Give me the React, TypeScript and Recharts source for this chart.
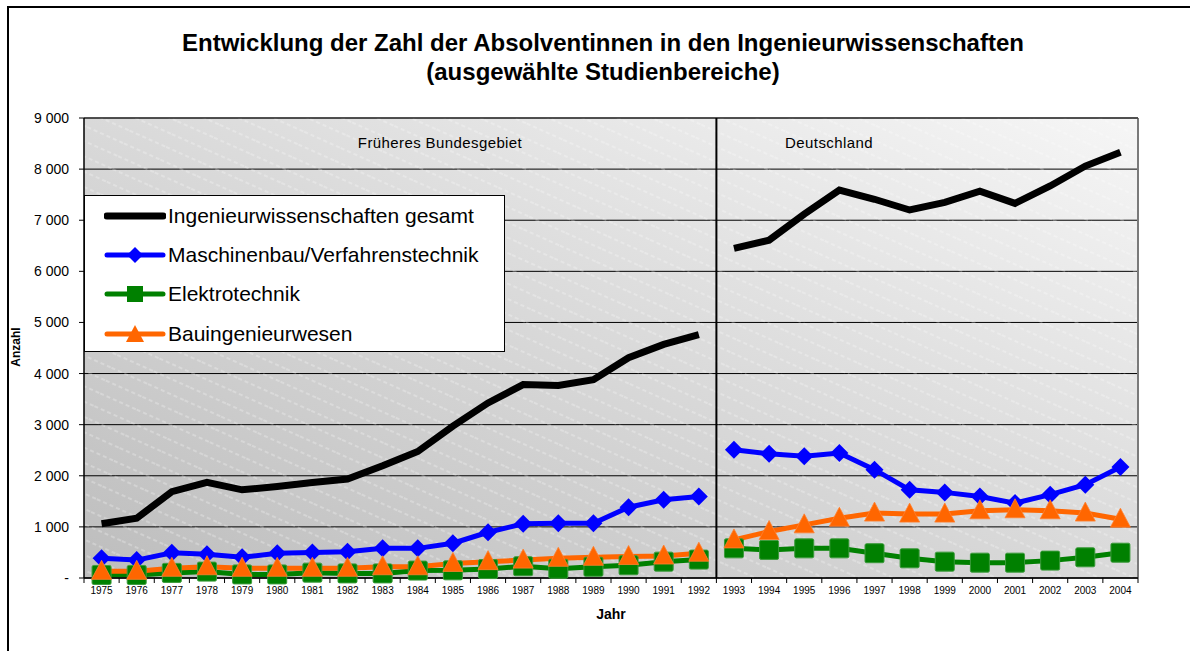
import {
  LineChart,
  Line,
  XAxis,
  YAxis,
  CartesianGrid,
  ReferenceLine,
  ReferenceArea,
} from "recharts";

// Absolventinnen in den Ingenieurwissenschaften, 1975–2004
const years = [
  1975, 1976, 1977, 1978, 1979, 1980, 1981, 1982, 1983, 1984, 1985, 1986,
  1987, 1988, 1989, 1990, 1991, 1992, 1993, 1994, 1995, 1996, 1997, 1998,
  1999, 2000, 2001, 2002, 2003, 2004,
];
const gesamt = [
  1060, 1170, 1690, 1870, 1725, 1790, 1870, 1935, 2195, 2475, 2970, 3425,
  3785, 3765, 3880, 4310, 4570, 4760, 6450, 6610, 7120, 7590, 7410, 7200,
  7350, 7570, 7330, 7670, 8060, 8330,
];
const maschinenbau = [
  385, 350, 495, 465, 405, 485, 500, 515, 580, 580, 680, 895, 1060, 1070,
  1070, 1385, 1530, 1595, 2510, 2430, 2380, 2445, 2120, 1725, 1675, 1595,
  1465, 1630, 1825, 2170,
];
const elektro = [
  60, 60, 100, 125, 70, 70, 105, 90, 90, 145, 150, 175, 230, 180, 220, 250,
  320, 360, 580, 550, 580, 580, 485, 385, 320, 300, 300, 340, 405, 495,
];
const bau = [
  130, 130, 190, 220, 190, 190, 190, 190, 220, 220, 285, 320, 350, 385, 405,
  420, 430, 485, 745, 910, 1040, 1170, 1270, 1250, 1250, 1315, 1335, 1315,
  1270, 1150,
];
const yTicks = [0, 1000, 2000, 3000, 4000, 5000, 6000, 7000, 8000, 9000];
const LAST_WEST = 1992;

// split every series at the 1992/1993 break (no connecting segment)
const data = years.map((year, i) => {
  const west = year <= LAST_WEST;
  return {
    year,
    gesW: west ? gesamt[i] : null,
    gesO: west ? null : gesamt[i],
    mbW: west ? maschinenbau[i] : null,
    mbO: west ? null : maschinenbau[i],
    etW: west ? elektro[i] : null,
    etO: west ? null : elektro[i],
    bauW: west ? bau[i] : null,
    bauO: west ? null : bau[i],
  };
});

const FONT = "Arial, 'Liberation Sans', sans-serif";
const BLUE = "#0000ff";
const GREEN = "#008000";
const ORANGE = "#ff6600";
const HALF = 1054 / 30 / 2;

const fmt = (v: number) =>
  v === 0 ? "-" : String(v).replace(/\B(?=(\d{3})+(?!\d))/g, " ");

function Diamond(props: any) {
  const { cx, cy, index } = props;
  if (cx == null || cy == null) return <g key={`d-${index}`} />;
  return (
    <polygon
      key={`d-${index}`}
      points={`${cx},${cy - 9} ${cx + 9},${cy} ${cx},${cy + 9} ${cx - 9},${cy}`}
      fill={BLUE}
    />
  );
}

function Square(props: any) {
  const { cx, cy, index } = props;
  if (cx == null || cy == null) return <g key={`s-${index}`} />;
  return (
    <rect
      key={`s-${index}`}
      x={cx - 9.5}
      y={cy - 9.5}
      width={19}
      height={19}
      rx={1.5}
      fill={GREEN}
      stroke="#3a9a3a"
      strokeWidth={1}
    />
  );
}

function Triangle(props: any) {
  const { cx, cy, index } = props;
  if (cx == null || cy == null) return <g key={`t-${index}`} />;
  return (
    <polygon
      key={`t-${index}`}
      points={`${cx},${cy - 11} ${cx + 10},${cy + 8} ${cx - 10},${cy + 8}`}
      fill={ORANGE}
      stroke="#ff8030"
      strokeWidth={0.8}
    />
  );
}

function YearTick(props: any) {
  const { x, y, payload, index } = props;
  const axisY = y - 7;
  return (
    <g>
      {index === 0 && (
        <line x1={x - HALF} y1={axisY} x2={x - HALF} y2={axisY + 5} stroke="#000" />
      )}
      <line x1={x + HALF} y1={axisY} x2={x + HALF} y2={axisY + 5} stroke="#000" />
      <text x={x} y={y + 9} textAnchor="middle" fontSize={10} fontFamily={FONT} fill="#000">
        {payload.value}
      </text>
    </g>
  );
}

const legendItems = [
  { name: "Ingenieurwissenschaften gesamt", color: "#000", marker: "none", width: 7 },
  { name: "Maschinenbau/Verfahrenstechnik", color: BLUE, marker: "diamond", width: 5 },
  { name: "Elektrotechnik", color: GREEN, marker: "square", width: 5 },
  { name: "Bauingenieurwesen", color: ORANGE, marker: "triangle", width: 5 },
];

function LegendIcon({ color, marker, width }: { color: string; marker: string; width: number }) {
  return (
    <svg width={62} height={24} style={{ display: "block" }}>
      <line x1={3} y1={12} x2={59} y2={12} stroke={color} strokeWidth={width} strokeLinecap="round" />
      {marker === "diamond" && <polygon points="31,4 39,12 31,20 23,12" fill={color} />}
      {marker === "square" && <rect x={23} y={4} width={16} height={16} fill={color} />}
      {marker === "triangle" && <polygon points="31,3 40,20 22,20" fill={color} />}
    </svg>
  );
}

export default function App() {
  return (
    <div
      style={{
        position: "absolute",
        left: 7,
        top: 6,
        width: 1183,
        height: 645,
        borderTop: "2px solid #000",
        borderLeft: "2px solid #000",
        background: "#fff",
        fontFamily: FONT,
      }}
    >
      <div
        style={{
          position: "absolute",
          left: 0,
          top: 20,
          width: 1188,
          textAlign: "center",
          fontWeight: "bold",
          fontSize: 24,
          lineHeight: "29px",
          color: "#000",
        }}
      >
        Entwicklung der Zahl der Absolventinnen in den Ingenieurwissenschaften
        <br />
        (ausgewählte Studienbereiche)
      </div>

      <LineChart
        width={1181}
        height={640}
        data={data}
        margin={{ top: 110, right: 52, bottom: 40, left: 0 }}
      >
        <defs>
          <linearGradient id="plotBg" x1="0" y1="1" x2="1" y2="0">
            <stop offset="0%" stopColor="#bdbdbd" />
            <stop offset="55%" stopColor="#dcdcdc" />
            <stop offset="100%" stopColor="#f6f6f6" />
          </linearGradient>
          <pattern
            id="stripes"
            patternUnits="userSpaceOnUse"
            width={40}
            height={14}
            patternTransform="rotate(24)"
          >
            <line x1={0} y1={7} x2={40} y2={7} stroke="#ffffff" strokeOpacity={0.5} strokeWidth={1} strokeDasharray="4 3" />
          </pattern>
        </defs>
        <CartesianGrid
          vertical={false}
          stroke="#000"
          strokeWidth={1}
          fill="url(#plotBg)"
          fillOpacity={1}
        />
        <ReferenceArea
          x1={1974.5}
          x2={2004.5}
          y1={0}
          y2={9000}
          fill="url(#stripes)"
          fillOpacity={1}
          stroke="none"
        />
        <XAxis
          dataKey="year"
          type="number"
          domain={[1974.5, 2004.5]}
          ticks={years}
          interval={0}
          height={30}
          tickSize={5}
          tickMargin={2}
          tickLine={false}
          axisLine={{ stroke: "#000", strokeWidth: 1.5 }}
          tick={<YearTick />}
        />
        <YAxis
          domain={[0, 9000]}
          ticks={yTicks}
          width={75}
          tickSize={5}
          tickMargin={10}
          tickFormatter={fmt}
          tick={{ fontSize: 14, fontFamily: FONT, fill: "#000" }}
          tickLine={{ stroke: "#000" }}
          axisLine={{ stroke: "#000", strokeWidth: 1.5 }}
        />
        <ReferenceLine x={2004.5} stroke="#7a7a7a" strokeWidth={2} />
        <ReferenceLine y={9000} stroke="#404040" strokeWidth={1.5} />
        <ReferenceLine x={1992.5} stroke="#000" strokeWidth={2} />

        <Line dataKey="gesW" stroke="#000" strokeWidth={7} dot={false} isAnimationActive={false} connectNulls={false} />
        <Line dataKey="gesO" stroke="#000" strokeWidth={7} dot={false} isAnimationActive={false} connectNulls={false} />
        <Line dataKey="mbW" stroke={BLUE} strokeWidth={5} dot={Diamond} activeDot={false} isAnimationActive={false} />
        <Line dataKey="mbO" stroke={BLUE} strokeWidth={5} dot={Diamond} activeDot={false} isAnimationActive={false} />
        <Line dataKey="etW" stroke={GREEN} strokeWidth={5} dot={Square} activeDot={false} isAnimationActive={false} />
        <Line dataKey="etO" stroke={GREEN} strokeWidth={5} dot={Square} activeDot={false} isAnimationActive={false} />
        <Line dataKey="bauW" stroke={ORANGE} strokeWidth={5} dot={Triangle} activeDot={false} isAnimationActive={false} />
        <Line dataKey="bauO" stroke={ORANGE} strokeWidth={5} dot={Triangle} activeDot={false} isAnimationActive={false} />
      </LineChart>

      <div style={{ position: "absolute", left: 281, top: 126, width: 300, textAlign: "center", fontSize: 15, letterSpacing: 0.4, color: "#000" }}>
        Früheres Bundesgebiet
      </div>
      <div style={{ position: "absolute", left: 720, top: 126, width: 200, textAlign: "center", fontSize: 15, letterSpacing: 0.4, color: "#000" }}>
        Deutschland
      </div>

      <div
        style={{
          position: "absolute",
          left: 75,
          top: 187,
          width: 421,
          height: 157,
          background: "#fff",
          border: "1px solid #000",
          boxSizing: "border-box",
          paddingTop: 0,
        }}
      >
        {legendItems.map((it) => (
          <div key={it.name} style={{ display: "flex", alignItems: "center", height: 39.4, paddingLeft: 19 }}>
            <LegendIcon color={it.color} marker={it.marker} width={it.width} />
            <span style={{ fontSize: 21, color: "#000", marginLeft: 2 }}>{it.name}</span>
          </div>
        ))}
      </div>

      <div
        style={{
          position: "absolute",
          left: 552,
          top: 598,
          width: 100,
          textAlign: "center",
          fontSize: 14,
          fontWeight: "bold",
          color: "#000",
        }}
      >
        Jahr
      </div>
      <div
        style={{
          position: "absolute",
          left: -43,
          top: 332,
          width: 100,
          textAlign: "center",
          fontSize: 12,
          fontWeight: "bold",
          color: "#000",
          transform: "rotate(-90deg)",
        }}
      >
        Anzahl
      </div>
    </div>
  );
}
